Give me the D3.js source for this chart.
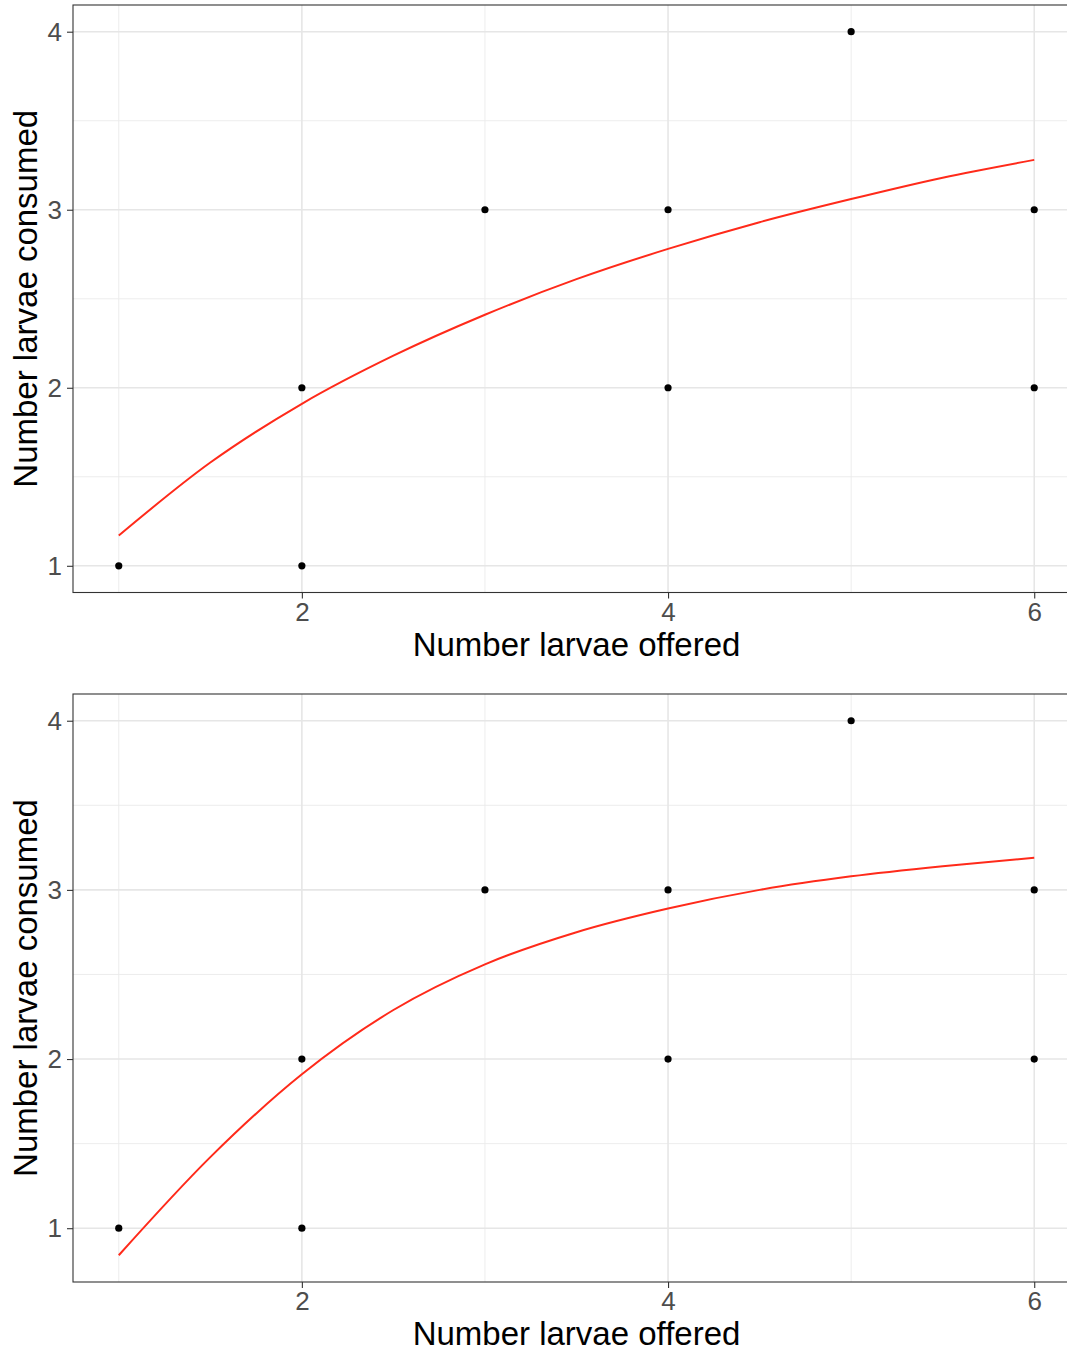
<!DOCTYPE html>
<html lang="en">
<head>
<meta charset="utf-8">
<style>
  body { margin: 0; background: #fff; }
  svg { display: block; font-family: "Liberation Sans", Arial, sans-serif; }
  .tick text { fill: #4d4d4d; font-size: 26px; }
  .tick line { stroke: #333; stroke-width: 1.1; }
  .domain { display: none; }
</style>
</head>
<body>
<script src="https://d3js.org/d3.v7.min.js"></script>
<svg width="1067" height="1352"></svg>
<script>
    // observed feeding trials (same in both panels)
    var offered  = [1, 2, 2, 3, 4, 4, 5, 6, 6];
    var consumed = [1, 1, 2, 3, 2, 3, 4, 2, 3];

    // fitted curves
    var curveX    = [1, 1.5, 2, 2.5, 3, 3.5, 4, 4.5, 5, 5.5, 6];
    var fitTop    = [1.17, 1.58, 1.91, 2.18, 2.41, 2.61, 2.78, 2.93, 3.06, 3.18, 3.28];
    var fitBottom = [0.84, 1.42, 1.91, 2.29, 2.56, 2.75, 2.89, 3.00, 3.08, 3.14, 3.19];

    var xTicks = [2, 4, 6];
    var yTicks = [1, 2, 3, 4];
    var xLabel = "Number larvae offered";
    var yLabel = "Number larvae consumed";

    var svg = d3.select("svg");
    var left = 73, right = 1080;

    function panel(fit, top, bottom) {
        var pts = offered.map(function (d, i) { return { x: d, y: consumed[i] }; });
        var line = curveX.map(function (d, i) { return { x: d, y: fit[i] }; });

        var ext = d3.extent(consumed.concat(fit));
        var pad = (ext[1] - ext[0]) * 0.05;
        var x = d3.scaleLinear().domain([0.75, 6.25]).range([left, right]);
        var y = d3.scaleLinear().domain([ext[0] - pad, ext[1] + pad]).range([bottom, top]);

        var g = svg.append("g");

        // minor grid
        var xMinor = [1, 3, 5];
        var yMinor = [1.5, 2.5, 3.5];
        g.selectAll(".vminor").data(xMinor).enter().append("line")
            .attr("x1", x).attr("x2", x).attr("y1", top).attr("y2", bottom)
            .attr("stroke", "#ebebeb").attr("stroke-width", 0.9);
        g.selectAll(".hminor").data(yMinor).enter().append("line")
            .attr("y1", y).attr("y2", y).attr("x1", left).attr("x2", right)
            .attr("stroke", "#ebebeb").attr("stroke-width", 0.9);
        // major grid
        g.selectAll(".vmajor").data(xTicks).enter().append("line")
            .attr("x1", x).attr("x2", x).attr("y1", top).attr("y2", bottom)
            .attr("stroke", "#e6e6e6").attr("stroke-width", 1.6);
        g.selectAll(".hmajor").data(yTicks).enter().append("line")
            .attr("y1", y).attr("y2", y).attr("x1", left).attr("x2", right)
            .attr("stroke", "#e6e6e6").attr("stroke-width", 1.6);

        // fitted curve
        g.append("path")
            .datum(line)
            .attr("fill", "none")
            .attr("stroke", "#ff2a1a")
            .attr("stroke-width", 2)
            .attr("d", d3.line()
                .x(function (d) { return x(d.x); })
                .y(function (d) { return y(d.y); })
                .curve(d3.curveMonotoneX));

        // points
        g.selectAll(".pt").data(pts).enter().append("circle")
            .attr("cx", function (d) { return x(d.x); })
            .attr("cy", function (d) { return y(d.y); })
            .attr("r", 3.6)
            .attr("fill", "#000");

        // panel border
        g.append("rect")
            .attr("x", left).attr("y", top)
            .attr("width", right - left).attr("height", bottom - top)
            .attr("fill", "none").attr("stroke", "#333").attr("stroke-width", 1.1);

        // axes
        g.append("g")
            .attr("transform", "translate(0," + bottom + ")")
            .call(d3.axisBottom(x).tickValues(xTicks).tickFormat(d3.format("d"))
                .tickSize(6).tickPadding(4));
        g.append("g")
            .attr("transform", "translate(" + left + ",0)")
            .call(d3.axisLeft(y).tickValues(yTicks).tickFormat(d3.format("d"))
                .tickSize(6).tickPadding(5));

        // titles
        g.append("text")
            .attr("x", (left + right) / 2)
            .attr("y", bottom + 63)
            .attr("text-anchor", "middle")
            .attr("font-size", "33px")
            .attr("fill", "#000")
            .text(xLabel);
        g.append("text")
            .attr("transform", "translate(37," + (top + bottom) / 2 + ") rotate(-90)")
            .attr("text-anchor", "middle")
            .attr("font-size", "33px")
            .attr("fill", "#000")
            .text(yLabel);
    }

    panel(fitTop, 5, 592.5);
    panel(fitBottom, 694, 1282);
</script>
</body>
</html>
